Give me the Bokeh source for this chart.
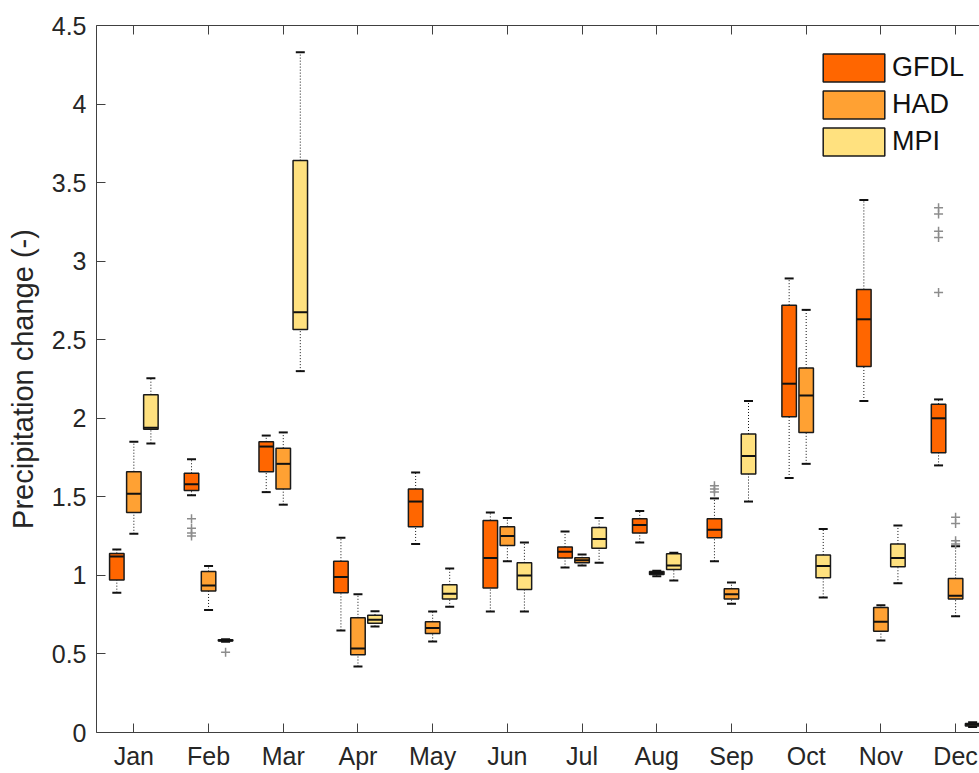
from bokeh.plotting import figure
from bokeh.models import (Range1d, FixedTicker, LinearAxis, NumeralTickFormatter,
                          ColumnDataSource, Legend, LegendItem)
from bokeh.embed import file_html
from bokeh.resources import INLINE

months = ["Jan", "Feb", "Mar", "Apr", "May", "Jun", "Jul", "Aug", "Sep", "Oct", "Nov", "Dec"]
models = ["GFDL", "HAD", "MPI"]

gfdl_low  = [0.89, 1.51, 1.53, 0.65, 1.20, 0.77, 1.05, 1.21, 1.09, 1.62, 2.11, 1.70]
gfdl_q1   = [0.97, 1.54, 1.66, 0.89, 1.31, 0.92, 1.11, 1.27, 1.24, 2.01, 2.33, 1.78]
gfdl_med  = [1.12, 1.58, 1.82, 0.99, 1.47, 1.11, 1.15, 1.32, 1.29, 2.22, 2.63, 2.00]
gfdl_q3   = [1.14, 1.65, 1.85, 1.09, 1.55, 1.35, 1.18, 1.36, 1.36, 2.72, 2.82, 2.09]
gfdl_high = [1.165, 1.74, 1.89, 1.24, 1.655, 1.40, 1.28, 1.41, 1.49, 2.89, 3.39, 2.12]

had_low  = [1.265, 0.78, 1.45, 0.42, 0.58, 1.09, 1.063, 0.995, 0.82, 1.71, 0.585, 0.74]
had_q1   = [1.40, 0.90, 1.55, 0.495, 0.63, 1.19, 1.08, 1.006, 0.85, 1.91, 0.645, 0.85]
had_med  = [1.52, 0.935, 1.71, 0.535, 0.665, 1.25, 1.097, 1.015, 0.88, 2.145, 0.705, 0.87]
had_q3   = [1.66, 1.025, 1.81, 0.73, 0.705, 1.31, 1.112, 1.025, 0.915, 2.32, 0.795, 0.98]
had_high = [1.85, 1.06, 1.91, 0.88, 0.77, 1.365, 1.133, 1.03, 0.955, 2.69, 0.81, 1.185]

mpi_low  = [1.84, 0.578, 2.30, 0.675, 0.80, 0.77, 1.08, 0.968, 1.47, 0.86, 0.95, 0.035]
mpi_q1   = [1.93, 0.582, 2.565, 0.696, 0.85, 0.91, 1.173, 1.038, 1.645, 0.985, 1.055, 0.042]
mpi_med  = [1.94, 0.586, 2.675, 0.717, 0.883, 1.00, 1.231, 1.063, 1.76, 1.06, 1.11, 0.05]
mpi_q3   = [2.15, 0.59, 3.64, 0.747, 0.94, 1.08, 1.305, 1.137, 1.90, 1.13, 1.20, 0.058]
mpi_high = [2.255, 0.594, 4.33, 0.772, 1.044, 1.21, 1.366, 1.144, 2.11, 1.296, 1.318, 0.065]

# outliers: (month index 1-based, value)
gfdl_out_month = [2, 2, 2, 2, 9, 9, 9, 12, 12, 12, 12, 12]
gfdl_out_value = [1.25, 1.27, 1.30, 1.36, 1.53, 1.55, 1.57, 2.80, 3.15, 3.19, 3.30, 3.34]
had_out_month = [12, 12, 12, 12]
had_out_value = [1.20, 1.22, 1.33, 1.37]
mpi_out_month = [2]
mpi_out_value = [0.511]

y_ticks = [0, 0.5, 1, 1.5, 2, 2.5, 3, 3.5, 4, 4.5]

colors = ["#FF6600", "#FFA133", "#FFE17F"]
offsets = [-0.228, 0.0, 0.228]
box_w = 0.194
FONT = "Liberation Sans"
TXT = "#262626"
AX = "#404040"

p = figure(width=979, height=773, x_range=Range1d(0.5, 12.32), y_range=Range1d(0, 4.5),
           output_backend="svg", toolbar_location=None,
           min_border_left=96, min_border_top=25, min_border_right=0, min_border_bottom=41,
           outline_line_color=None, background_fill_color="white")
p.grid.visible = False

xt = FixedTicker(ticks=list(range(1, 13)))
p.xaxis.ticker = xt
p.xaxis.major_label_overrides = {i + 1: m for i, m in enumerate(months)}
p.yaxis.ticker = FixedTicker(ticks=y_ticks)
p.yaxis.formatter = NumeralTickFormatter(format="0.[0]")
for ax in (p.xaxis[0], p.yaxis[0]):
    ax.major_tick_in = 9
    ax.major_tick_out = 0
    ax.minor_tick_in = 0
    ax.minor_tick_out = 0
    ax.axis_line_color = AX
    ax.major_tick_line_color = AX
    ax.major_label_text_font = FONT
    ax.major_label_text_font_size = "25px"
    ax.major_label_text_color = TXT
p.xaxis.major_label_standoff = 9
p.yaxis.major_label_standoff = 10
p.yaxis.axis_label = "Precipitation change (-)"
p.yaxis.axis_label_text_font = FONT
p.yaxis.axis_label_text_font_size = "29px"
p.yaxis.axis_label_text_font_style = "normal"
p.yaxis.axis_label_text_color = TXT
p.yaxis.axis_label_standoff = 10

top = LinearAxis(ticker=xt, major_tick_in=9, major_tick_out=0, minor_tick_in=0, minor_tick_out=0,
                 axis_line_color=AX, major_tick_line_color=AX,
                 major_label_text_color=None, major_label_text_font_size="1px",
                 major_label_standoff=0)
p.add_layout(top, "above")

data = [
    (gfdl_low, gfdl_q1, gfdl_med, gfdl_q3, gfdl_high, gfdl_out_month, gfdl_out_value),
    (had_low, had_q1, had_med, had_q3, had_high, had_out_month, had_out_value),
    (mpi_low, mpi_q1, mpi_med, mpi_q3, mpi_high, mpi_out_month, mpi_out_value),
]

legend_items = []
for k, (lo, q1, med, q3, hi, om, ov) in enumerate(data):
    x = [i + 1 + offsets[k] for i in range(12)]
    src = ColumnDataSource(dict(x=x, low=lo, q1=q1, med=med, q3=q3, high=hi))
    p.segment(x0="x", y0="q3", x1="x", y1="high", source=src, line_color="#111111",
              line_width=1, line_dash="1 2")
    p.segment(x0="x", y0="low", x1="x", y1="q1", source=src, line_color="#111111",
              line_width=1, line_dash="1 2")
    r = p.vbar(x="x", width=box_w, bottom="q1", top="q3", source=src,
               fill_color=colors[k], line_color="#1a1a1a", line_width=1.5)
    legend_items.append(LegendItem(label=models[k], renderers=[r]))
    p.scatter(x="x", y="med", source=src, marker="dash", size=14, line_color="#111111",
              line_width=2)
    p.scatter(x="x", y="high", source=src, marker="dash", size=9, line_color="#111111",
              line_width=2)
    p.scatter(x="x", y="low", source=src, marker="dash", size=9, line_color="#111111",
              line_width=2)
    osrc = ColumnDataSource(dict(x=[m + offsets[k] for m in om], y=ov))
    p.scatter(x="x", y="y", source=osrc, marker="cross", size=9, line_color="#8c8c8c",
              line_width=1.5)

legend = Legend(items=legend_items, location=(719, 573), orientation="vertical",
                glyph_width=77, glyph_height=35, label_height=35, spacing=2,
                label_standoff=0, padding=0, margin=0, border_line_color=None,
                background_fill_alpha=0, label_text_font=FONT,
                label_text_font_size="27px", label_text_color="#111111")
p.add_layout(legend)

open("out.html", "w").write(file_html(p, INLINE))
